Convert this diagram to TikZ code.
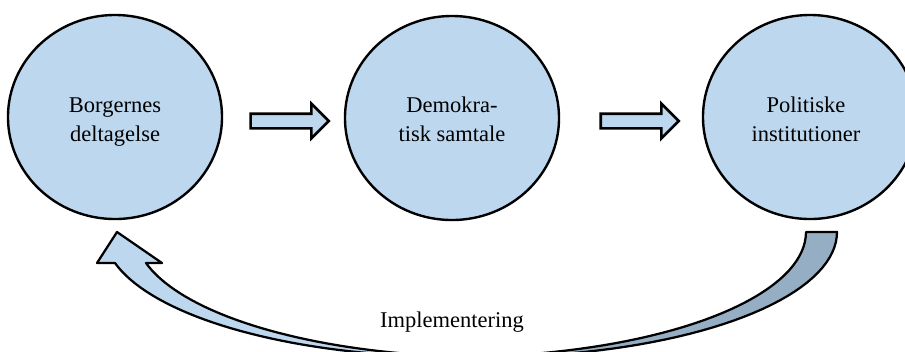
\documentclass[tikz,border=0pt]{standalone}
\usepackage{fontspec}
\setmainfont{Liberation Serif}
\usepackage{tikz}
\usetikzlibrary{positioning,shapes.geometric,shapes.arrows}
\definecolor{paleblue}{HTML}{BDD7EE}
\definecolor{backblue}{HTML}{96AEC3}

\begin{document}
\begin{tikzpicture}[x=0.025cm,y=-0.025cm,
    stage/.style={ellipse,draw,line width=1.7pt,fill=paleblue,minimum width=5.35cm,minimum height=5.1cm,inner sep=0},
    stagetext/.style={align=center,inner sep=0,font=\fontsize{16}{21.3}\selectfont},
    flow/.style={single arrow,draw,line width=1.9pt,fill=paleblue,minimum height=1.95cm,minimum width=0.8cm,
      single arrow head extend=0.25cm,inner xsep=0,inner ysep=0.15cm}]
  \path[use as bounding box] (0,0) rectangle (905,351);
  \clip (0,0) rectangle (905,351);
  \def\cxa{455} \def\cxb{486} \def\rada{351} \def\radb{125}
  % the band back to the start, cut by the lower edge
  \draw[line width=1.6pt,line join=round,fill=backblue]
    plot[domain=0:87.47,samples=40] ({\cxa+\rada*cos(\x)},{232+\radb*sin(\x)})
    -- plot[domain=92.53:0,samples=40] ({\cxb+\rada*cos(\x)},{232+\radb*sin(\x)}) -- cycle;
  \draw[line width=1.6pt,line join=round,fill=paleblue]
    plot[domain=87.47:165.64,samples=40] ({\cxa+\rada*cos(\x)},{232+\radb*sin(\x)})
    -- (97,263) -- (117,232) -- (162,263)
    -- plot[domain=165.64:92.53,samples=40] ({\cxb+\rada*cos(\x)},{232+\radb*sin(\x)}) -- cycle;
  \node[stage](borger) at (115,117) {};
  \node[stage](samtale) at (452,118) {};
  \node[stage](instit) at (810,117) {};
  \node[stagetext](borgerlbl) at (115,121) {\strut Borgernes\\deltagelse\strut};
  \node[stagetext](samtalelbl) at (452,121) {\strut Demokra-\\tisk samtale\strut};
  \node[stagetext](institlbl) at (806,121) {\strut Politiske\\institutioner\strut};
  \node[flow](flowA) at (286,121) {};
  \node[flow](flowB) at (636,121) {};
  \node[stagetext,anchor=base](impl) at (452,327) {Implementering};
\end{tikzpicture}
\end{document}
